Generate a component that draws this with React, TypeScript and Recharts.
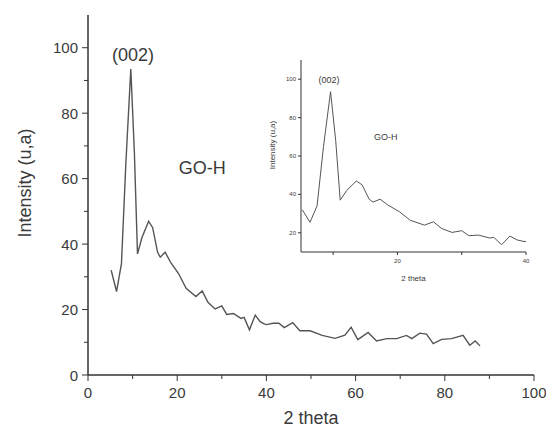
import React from 'react';
import { LineChart, Line, XAxis, YAxis, ReferenceDot } from 'recharts';

// 2 theta positions (degrees)
const theta = [
  5.2, 6.4, 7.5, 8.5, 9.6, 10.4, 11.1, 12.1, 13.6, 14.5, 15.6, 16.2, 17.3, 18.5,
  20.3, 22.0, 24.2, 25.6, 26.9, 28.5, 30.0, 31.1, 32.6, 34.3, 35.0, 36.2, 37.5,
  38.6, 39.5, 40.0, 41.5, 42.8, 44.0, 45.9, 47.5, 49.8, 52.5, 55.4, 57.6, 59.0,
  60.5, 62.8, 64.7, 67.0, 69.2, 71.4, 72.6, 74.4, 75.9, 77.4, 79.3, 81.5, 84.1,
  85.6, 86.8, 87.9,
];
// Intensity (u,a)
const intensity = [
  32, 25.5, 34, 65, 93.5, 68, 37, 42, 47, 45, 37.5, 36, 37.5, 34.5,
  31, 26.5, 24, 25.7, 22.2, 20.2, 21.1, 18.5, 18.8, 17.3, 17.6, 13.8, 18.3,
  16.3, 15.6, 15.4, 15.8, 15.8, 14.5, 16, 13.5, 13.5, 12.1, 11.2, 12.2, 14.6,
  10.8, 13, 10.4, 11.1, 11.1, 12.1, 11.1, 12.8, 12.5, 9.6, 10.9, 11.1, 12.1,
  9.1, 10.4, 8.9,
];

const mainXTicks = [0, 10, 20, 30, 40, 50, 60, 70, 80, 90, 100];
const mainXLabels = [0, 20, 40, 60, 80, 100];
const mainYTicks = [0, 10, 20, 30, 40, 50, 60, 70, 80, 90, 100];
const mainYLabels = [0, 20, 40, 60, 80, 100];

const insetXTicks = [10, 20, 30, 40];
const insetXLabels = [20, 40];
const insetYTicks = [20, 40, 60, 80, 100];
const insetYLabels = [20, 40, 60, 80, 100];
const insetMaxTheta = 40;

const mainNotes = [
  { x: 10.1, y: 97.8, text: '(002)' },
  { x: 25.6, y: 63.3, text: 'GO-H' },
];
const insetNotes = [
  { x: 9.35, y: 99.6, text: '(002)' },
  { x: 18.2, y: 69.9, text: 'GO-H' },
];

const data = theta.map((t, i) => ({ theta: t, intensity: intensity[i] }));
const insetData = data.filter((d) => d.theta <= insetMaxTheta);

const FONT = '"Liberation Sans", Arial, sans-serif';
const AXIS = '#333';
const TEXT = '#3a3a3a';

const makeXTick =
  (labels: number[], major: number, minor: number, fontSize: number, offset: number) =>
  (props: any) => {
    const { x, y, payload } = props;
    const isMajor = labels.includes(payload.value);
    return (
      <g>
        <line x1={x} x2={x} y1={y} y2={y + (isMajor ? major : minor)} stroke={AXIS} strokeWidth={1} />
        {isMajor && (
          <text x={x} y={y + offset} textAnchor="middle" dominantBaseline="central" fontSize={fontSize} fill={TEXT} fontFamily={FONT}>
            {payload.value}
          </text>
        )}
      </g>
    );
  };

const makeYTick =
  (labels: number[], major: number, minor: number, fontSize: number, offset: number) =>
  (props: any) => {
    const { x, y, payload } = props;
    const isMajor = labels.includes(payload.value);
    return (
      <g>
        <line x1={x} x2={x - (isMajor ? major : minor)} y1={y} y2={y} stroke={AXIS} strokeWidth={1} />
        {isMajor && (
          <text x={x - offset} y={y} textAnchor="end" dominantBaseline="central" fontSize={fontSize} fill={TEXT} fontFamily={FONT}>
            {payload.value}
          </text>
        )}
      </g>
    );
  };

const xTitle = (text: string, fontSize: number, dy: number) => (p: any) => {
  const vb = p.viewBox || {};
  return (
    <text x={vb.x + vb.width / 2} y={vb.y + dy} textAnchor="middle" dominantBaseline="central" fontSize={fontSize} fill={TEXT} fontFamily={FONT}>
      {text}
    </text>
  );
};

const yTitle = (text: string, fontSize: number, dx: number, dy: number) => (p: any) => {
  const vb = p.viewBox || {};
  const cx = vb.x + dx;
  const cy = vb.y + vb.height / 2 + dy;
  return (
    <text x={cx} y={cy} transform={`rotate(-90, ${cx}, ${cy})`} textAnchor="middle" dominantBaseline="central" fontSize={fontSize} fill={TEXT} fontFamily={FONT}>
      {text}
    </text>
  );
};

export default function App() {
  return (
    <div style={{ position: 'absolute', left: 0, top: 0, width: 546, height: 430, background: '#fff' }}>
      <div style={{ position: 'absolute', left: 0, top: 0 }}>
        <LineChart width={546} height={430} data={data} margin={{ top: 15, right: 12, bottom: 14, left: 28 }}>
          <XAxis
            dataKey="theta"
            type="number"
            domain={[0, 100]}
            ticks={mainXTicks}
            interval={0}
            tickSize={0}
            tickMargin={0}
            tickLine={false}
            height={41}
            axisLine={{ stroke: AXIS, strokeWidth: 1.5 }}
            tick={makeXTick(mainXLabels, 6, 4, 15, 17)}
            label={{ content: xTitle('2 theta', 18, 43) } as any}
          />
          <YAxis
            type="number"
            domain={[0, 110]}
            ticks={mainYTicks}
            interval={0}
            tickSize={0}
            tickMargin={0}
            tickLine={false}
            width={60}
            axisLine={{ stroke: AXIS, strokeWidth: 1.5 }}
            tick={makeYTick(mainYLabels, 6, 4, 15, 10)}
            label={{ content: yTitle('Intensity (u,a)', 18, -3, -12) } as any}
          />
          <Line type="linear" dataKey="intensity" stroke="#555" strokeWidth={1.4} dot={false} isAnimationActive={false} />
          {mainNotes.map((n) => (
            <ReferenceDot
              key={n.text}
              x={n.x}
              y={n.y}
              r={0}
              fill="none"
              stroke="none"
              label={{ value: n.text, position: 'center', fontSize: 18, fill: TEXT, fontFamily: FONT } as any}
            />
          ))}
        </LineChart>
      </div>
      <div style={{ position: 'absolute', left: 0, top: 0 }}>
        <LineChart width={546} height={430} data={insetData} margin={{ top: 60, right: 20, bottom: 148, left: 271 }}>
          <XAxis
            dataKey="theta"
            type="number"
            domain={[5, 40]}
            ticks={insetXTicks}
            interval={0}
            tickSize={0}
            tickMargin={0}
            tickLine={false}
            height={30}
            axisLine={{ stroke: AXIS, strokeWidth: 1 }}
            tick={makeXTick(insetXLabels, 3, 3, 6, 9)}
            label={{ content: xTitle('2 theta', 8, 26) } as any}
          />
          <YAxis
            type="number"
            domain={[10, 110]}
            ticks={insetYTicks}
            interval={0}
            tickSize={0}
            tickMargin={0}
            tickLine={false}
            width={30}
            axisLine={{ stroke: AXIS, strokeWidth: 1 }}
            tick={makeYTick(insetYLabels, 3, 3, 6, 5)}
            label={{ content: yTitle('Intensity (u,a)', 8, 1, -11) } as any}
          />
          <Line type="linear" dataKey="intensity" stroke="#555" strokeWidth={1} dot={false} isAnimationActive={false} />
          {insetNotes.map((n) => (
            <ReferenceDot
              key={n.text}
              x={n.x}
              y={n.y}
              r={0}
              fill="none"
              stroke="none"
              label={{ value: n.text, position: 'center', fontSize: 9, fill: TEXT, fontFamily: FONT } as any}
            />
          ))}
        </LineChart>
      </div>
    </div>
  );
}
